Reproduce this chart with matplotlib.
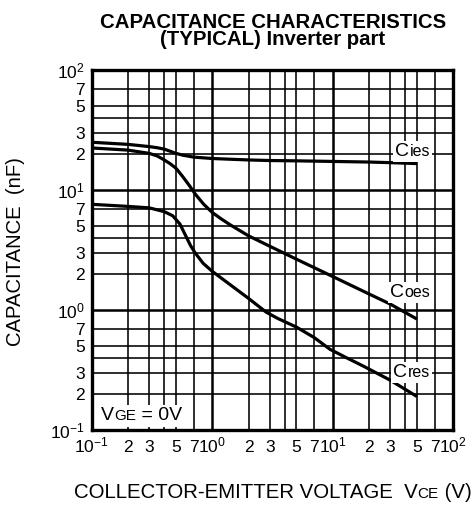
import matplotlib
matplotlib.use("Agg")
import matplotlib.pyplot as plt
from matplotlib.offsetbox import AnnotationBbox, HPacker, TextArea

plt.rcParams['font.family'] = ['Liberation Sans', 'DejaVu Sans']
plt.rcParams['mathtext.fontset'] = 'custom'
plt.rcParams['mathtext.rm'] = 'Liberation Sans'
plt.rcParams['mathtext.it'] = 'Liberation Sans:italic'
plt.rcParams['mathtext.bf'] = 'Liberation Sans:bold'

# ---- data ----
cies_x = [0.1, 0.2, 0.3, 0.35, 0.4, 0.45, 0.5, 0.57, 0.7, 1.0, 1.5, 2, 3, 5, 10, 20, 30, 50]
cies_y = [25.0, 24.0, 23.0, 22.5, 21.9, 21.0, 20.2, 19.5, 18.8, 18.3, 18.0, 17.8, 17.6, 17.5, 17.3, 17.1, 16.9, 16.6]

coes_x = [0.1, 0.2, 0.3, 0.35, 0.4, 0.45, 0.5, 0.57, 0.65, 0.72, 0.85, 1.0, 1.2, 1.4, 2.0, 3.0, 5.0, 10, 20, 30, 50]
coes_y = [22.4, 21.5, 20.2, 19.2, 17.8, 16.5, 15.2, 12.9, 10.8, 9.3, 7.6, 6.5, 5.7, 5.15, 4.15, 3.4, 2.65, 1.9, 1.36, 1.12, 0.84]

cres_x = [0.1, 0.2, 0.3, 0.4, 0.47, 0.54, 0.61, 0.66, 0.72, 0.84, 1.0, 1.5, 2.0, 2.8, 3.5, 5.0, 7.0, 9.5, 13, 18, 30, 50]
cres_y = [7.6, 7.3, 7.1, 6.6, 6.1, 5.2, 4.05, 3.45, 3.0, 2.45, 2.1, 1.55, 1.25, 0.96, 0.85, 0.72, 0.59, 0.47, 0.40, 0.34, 0.26, 0.19]

x_ticks = [0.1, 0.2, 0.3, 0.5, 0.7, 1, 2, 3, 5, 7, 10, 20, 30, 50, 70, 100]
x_labels = [r'$\mathregular{10^{-1}}$', '2', '3', '5', '7', r'$\mathregular{10^{0}}$',
            '2', '3', '5', '7', r'$\mathregular{10^{1}}$', '2', '3', '5', '7', r'$\mathregular{10^{2}}$']
y_ticks = [0.1, 0.2, 0.3, 0.5, 0.7, 1, 2, 3, 5, 7, 10, 20, 30, 50, 70, 100]
y_labels = [r'$\mathregular{10^{-1}}$', '2', '3', '5', '7', r'$\mathregular{10^{0}}$',
            '2', '3', '5', '7', r'$\mathregular{10^{1}}$', '2', '3', '5', '7', r'$\mathregular{10^{2}}$']
decades = [0.1, 1, 10, 100]
minor_mults = [2, 3, 4, 5, 7]

# ---- figure ----
W, H = 476, 505
fig = plt.figure(figsize=(W / 100, H / 100), dpi=100)
L, R, T, B = 91.7, 453.3, 70, 430
ax = fig.add_axes([L / W, 1 - B / H, (R - L) / W, (B - T) / H])
ax.set_xscale('log')
ax.set_yscale('log')
ax.set_xlim(0.1, 100)
ax.set_ylim(0.1, 100)

# grid
for d in decades:
    ax.axvline(d, color='black', lw=1.8, zorder=1)
    ax.axhline(d, color='black', lw=1.8, zorder=1)
    if d < 100:
        for m in minor_mults:
            ax.axvline(d * m, color='black', lw=1.15, zorder=1)
            ax.axhline(d * m, color='black', lw=1.15, zorder=1)

for xs, ys in [(cies_x, cies_y), (coes_x, coes_y), (cres_x, cres_y)]:
    ax.plot(xs, ys, color='black', lw=2.3, zorder=4, solid_capstyle='butt')

for s in ax.spines.values():
    s.set_linewidth(2.4)
    s.set_zorder(6)

ax.set_xticks(x_ticks, x_labels)
ax.set_yticks(y_ticks, y_labels)
ax.minorticks_off()
ax.tick_params(axis='both', length=0, labelsize=12.5)
ax.tick_params(axis='x', pad=16)
ax.tick_params(axis='y', pad=5)
for t in ax.get_xticklabels():
    t.set_verticalalignment('baseline')


def label(parts, xy, coords='data', frame=True, align=(0.5, 0.5)):
    kids = [TextArea(s, textprops=dict(size=sz, color='black')) for s, sz in parts]
    pk = HPacker(children=kids, align='baseline', pad=0, sep=0)
    ab = AnnotationBbox(pk, xy, xycoords=coords, frameon=frame, pad=0.15,
                        box_alignment=align,
                        bboxprops=dict(fc='white', ec='none'))
    ab.set_zorder(5)
    return ab


ax.add_artist(label([('C', 14), ('ies', 11.5)], (46, 20.8)))
ax.add_artist(label([('C', 14), ('oes', 11.5)], (44, 1.41)))
ax.add_artist(label([('C', 14), ('res', 11.5)], (45, 0.30)))
ax.add_artist(label([('V', 14), ('GE', 11), (' = 0V', 14)], (0.26, 0.131)))

# x label
fig.add_artist(label([('COLLECTOR-EMITTER VOLTAGE  V', 14.7), ('CE', 11), (' (V)', 14.7)],
                     (272.5 / W, 1 - 493 / H), coords='figure fraction', frame=False))

fig.text(16 / W, 1 - 252 / H, 'CAPACITANCE  (nF)', rotation=90, ha='center', va='center', size=14.6)
fig.text(273 / W, 1 - 13.4 / H, 'CAPACITANCE CHARACTERISTICS\n(TYPICAL) Inverter part',
         weight='bold', size=14.7, ha='center', va='top', multialignment='center',
         linespacing=0.82)

fig.savefig('out.png', dpi=100)
